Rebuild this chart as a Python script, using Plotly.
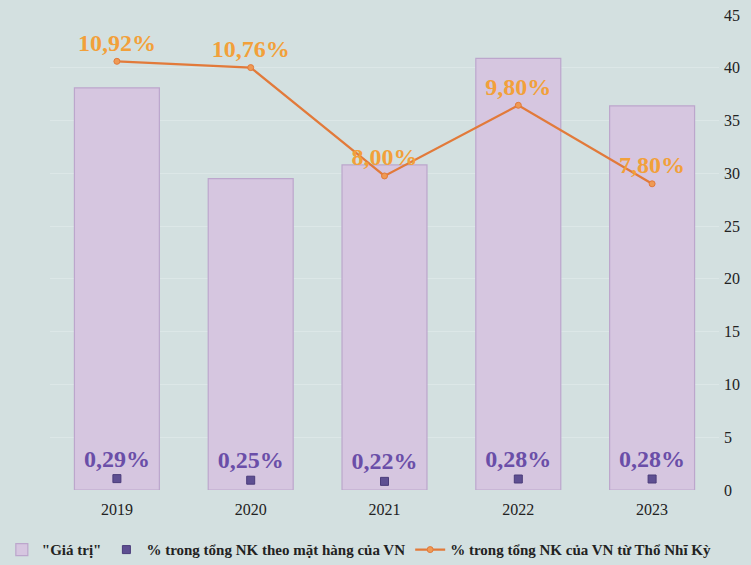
import plotly.graph_objects as go

years = ["2019", "2020", "2021", "2022", "2023"]
gia_tri = [38.1, 29.5, 30.8, 40.9, 36.4]
pct_mat_hang = [0.29, 0.25, 0.22, 0.28, 0.28]
pct_tho_nhi_ky = [10.92, 10.76, 8.00, 9.80, 7.80]

def fmt(v):
    return f"{v:.2f}".replace(".", ",") + "%"

SERIF = "Liberation Serif"

fig = go.Figure()
fig.add_trace(go.Bar(
    x=years, y=gia_tri, name='"Giá trị"',
    marker=dict(color="#d6c6e0", line=dict(color="#bca6cc", width=1.2)),
    yaxis="y",
))
fig.add_trace(go.Scatter(
    x=years, y=pct_mat_hang, name="% trong tổng NK theo mặt hàng của VN",
    mode="markers+text", yaxis="y2",
    marker=dict(symbol="square", size=8, color="#5e4f92", line=dict(color="#4a3c7a", width=1)),
    text=[fmt(v) for v in pct_mat_hang], textposition="top center",
    textfont=dict(family=SERIF, size=24, color="#6a4ea8", weight="bold"),
))
fig.add_trace(go.Scatter(
    x=years, y=pct_tho_nhi_ky, name="% trong tổng NK của VN từ Thổ Nhĩ Kỳ",
    mode="lines+markers+text", yaxis="y2",
    line=dict(color="#e27a3a", width=2.2),
    marker=dict(symbol="circle", size=6, color="#ef9a55", line=dict(color="#e27a3a", width=1)),
    text=[fmt(v) for v in pct_tho_nhi_ky], textposition="top center",
    textfont=dict(family=SERIF, size=24, color="#f2a03a", weight="bold"),
))

fig.update_layout(
    width=751, height=565,
    paper_bgcolor="#d3e0e0", plot_bgcolor="#d3e0e0",
    margin=dict(l=50, r=32, t=15, b=75, autoexpand=False),
    bargap=0.365,
    font=dict(family=SERIF, size=16, color="#222222"),
    xaxis=dict(type="category", showgrid=False, showline=False, ticks="",
               ticklabelstandoff=8,
               tickfont=dict(family=SERIF, size=16, color="#222222")),
    yaxis=dict(side="right", range=[0, 45], dtick=5, showgrid=True,
               gridcolor="rgba(255,255,255,0.22)", gridwidth=1, zeroline=False,
               ticks="", ticklabelstandoff=4,
               tickfont=dict(family=SERIF, size=16, color="#222222")),
    yaxis2=dict(overlaying="y", side="right", range=[0, 12.1], visible=False,
                showgrid=False),
    showlegend=True,
    legend=dict(orientation="h", x=-0.072, xanchor="left", y=-0.126, yanchor="middle",
                font=dict(family=SERIF, size=15, color="#222222", weight="bold"),
                bgcolor="rgba(0,0,0,0)", traceorder="normal", itemwidth=30,
                tracegroupgap=0),
)

fig.write_html("out.html")
